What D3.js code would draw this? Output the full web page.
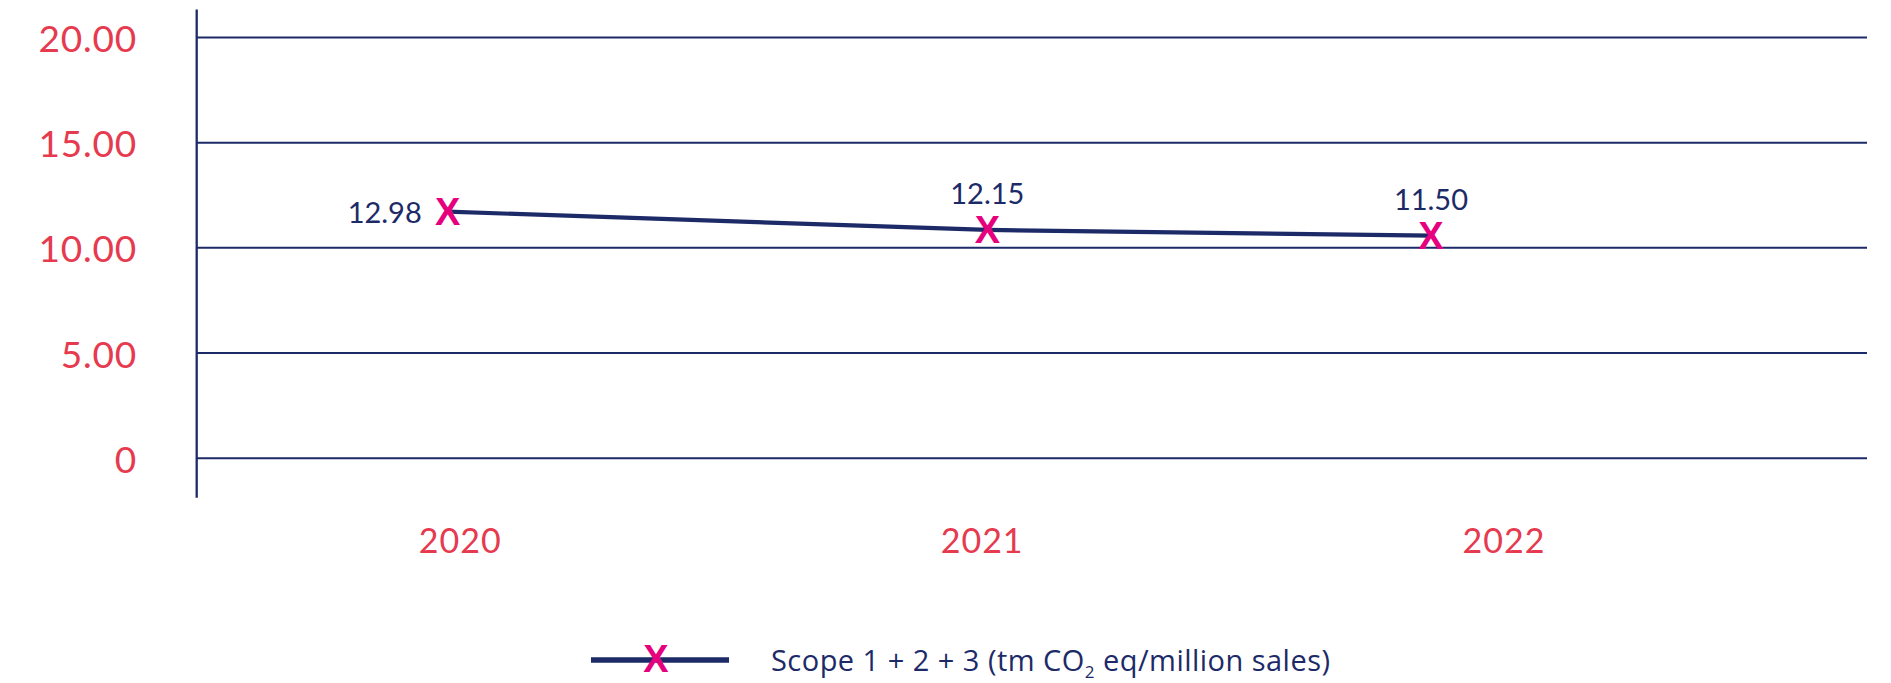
<!DOCTYPE html>
<html>
<head>
<meta charset="utf-8">
<script src="https://cdn.jsdelivr.net/npm/d3@7"></script>
<style>
  html, body { margin: 0; padding: 0; background: #fff; }
  svg { display: block; }
</style>
</head>
<body>
<svg id="chart" width="1891" height="683"></svg>
<script>
// ---- data ----
const categories = ["2020", "2021", "2022"];
// data labels as printed on the chart
const labelTexts = ["12.98", "12.15", "11.50"];
// plotted marker values
const seriesValues = [11.72, 10.85, 10.58];
// horizontal marker positions (in year units)
const markerPos = [2019.976, 2021.01, 2021.86];
const yTicks = [0, 5, 10, 15, 20];
const yTickLabels = ["0", "5.00", "10.00", "15.00", "20.00"];
const legendLabel = ["Scope 1 + 2 + 3 (tm CO", "2", " eq/million sales)"];

// ---- styles ----
const navy = "#1d2a68";
const red = "#e63a4f";
const magenta = "#e6007e";
const font = "Lato, 'Open Sans', sans-serif";

const svg = d3.select("#chart");

const plot = { left: 196.7, right: 1867, top: 37.4, bottom: 458.3 };

const y = d3.scaleLinear().domain([0, 20]).range([plot.bottom, plot.top]);
const x = d3.scaleLinear().domain([2020, 2022]).range([460.3, 1504]);

// gridlines
svg.append("g")
  .selectAll("line")
  .data(yTicks)
  .join("line")
  .attr("x1", plot.left)
  .attr("x2", plot.right)
  .attr("y1", d => y(d))
  .attr("y2", d => y(d))
  .attr("stroke", navy)
  .attr("stroke-width", 2);

// y axis line
svg.append("line")
  .attr("x1", plot.left).attr("x2", plot.left)
  .attr("y1", 9.5).attr("y2", 497.7)
  .attr("stroke", navy)
  .attr("stroke-width", 2.3);

// y tick labels
svg.append("g")
  .selectAll("text")
  .data(yTicks)
  .join("text")
  .attr("x", 137)
  .attr("y", d => y(d))
  .attr("text-anchor", "end")
  .attr("dominant-baseline", "central")
  .attr("fill", red)
  .attr("font-family", font)
  .attr("font-size", 37)
  .attr("letter-spacing", 0.8)
  .text((d, i) => yTickLabels[i]);

// category labels
svg.append("g")
  .selectAll("text")
  .data(categories)
  .join("text")
  .attr("x", d => x(+d))
  .attr("y", 539)
  .attr("text-anchor", "middle")
  .attr("dominant-baseline", "central")
  .attr("fill", red)
  .attr("font-family", font)
  .attr("font-size", 34)
  .attr("letter-spacing", 1)
  .text(d => d);

const pts = categories.map((c, i) => ({
  cat: c, px: x(markerPos[i]), py: y(seriesValues[i]), label: labelTexts[i]
}));

// series line
svg.append("path")
  .datum(pts)
  .attr("fill", "none")
  .attr("stroke", navy)
  .attr("stroke-width", 4.2)
  .attr("d", d3.line().x(d => d.px).y(d => d.py));

// markers
svg.append("g")
  .selectAll("text")
  .data(pts)
  .join("text")
  .attr("x", d => d.px)
  .attr("y", d => d.py)
  .attr("text-anchor", "middle")
  .attr("dominant-baseline", "central")
  .attr("fill", magenta)
  .attr("font-family", "'Liberation Sans', Arial, sans-serif")
  .attr("font-weight", 700)
  .attr("font-size", 38)
  .text("X");

// data labels
svg.append("g")
  .selectAll("text")
  .data(pts)
  .join("text")
  .attr("x", (d, i) => i === 0 ? d.px - 26 : d.px)
  .attr("y", (d, i) => i === 0 ? d.py : d.py - 37)
  .attr("text-anchor", (d, i) => i === 0 ? "end" : "middle")
  .attr("dominant-baseline", "central")
  .attr("fill", navy)
  .attr("font-family", font)
  .attr("font-size", 29)
  .text(d => d.label);

// legend
const lg = svg.append("g");
lg.append("line")
  .attr("x1", 591).attr("x2", 729)
  .attr("y1", 660).attr("y2", 660)
  .attr("stroke", navy)
  .attr("stroke-width", 5.5);
lg.append("text")
  .attr("x", 656).attr("y", 659)
  .attr("text-anchor", "middle")
  .attr("dominant-baseline", "central")
  .attr("fill", magenta)
  .attr("font-family", "'Liberation Sans', Arial, sans-serif")
  .attr("font-weight", 700)
  .attr("font-size", 38)
  .text("X");
const lt = lg.append("text")
  .attr("x", 771).attr("y", 671)
  .attr("fill", navy)
  .attr("font-family", "'Open Sans', Lato, sans-serif")
  .attr("font-size", 29)
  .attr("textLength", 559)
  .attr("lengthAdjust", "spacing");
lt.append("tspan").text(legendLabel[0]);
lt.append("tspan").attr("font-size", 17).attr("dy", 7).text(legendLabel[1]);
lt.append("tspan").attr("dy", -7).text(legendLabel[2]);
</script>
</body>
</html>
